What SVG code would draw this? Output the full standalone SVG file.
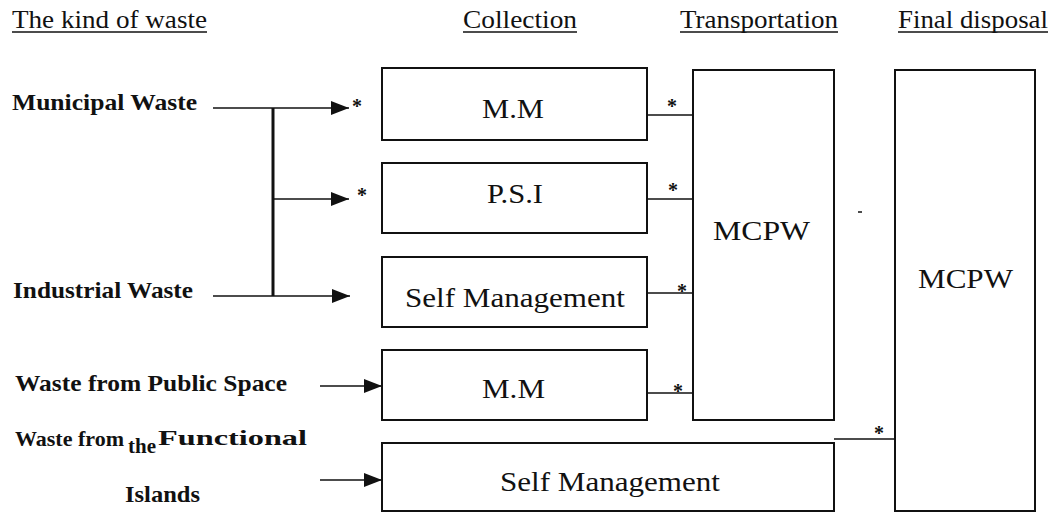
<svg xmlns="http://www.w3.org/2000/svg" width="1055" height="513" viewBox="0 0 1055 513">
<style>
text{font-family:"Liberation Serif","Times New Roman",serif;fill:#111;font-weight:bold}
.h{font-size:25px;font-weight:normal}
.l{font-size:24px}
.b{font-size:27px;font-weight:normal}
.s{font-size:20px}
.box{fill:#fff;stroke:#111;stroke-width:2}
.ln{stroke:#111;stroke-width:1.5;fill:none}
.u{stroke:#111;stroke-width:1.3}
</style>
<defs>
<marker id="ar" viewBox="0 0 18 14" refX="18" refY="7" markerWidth="18" markerHeight="14" markerUnits="userSpaceOnUse" orient="auto"><path d="M0,0L18,7L0,14z" fill="#111"/></marker>
</defs>
<g id="headers">
<text class="h" x="12" y="28" textLength="195" lengthAdjust="spacingAndGlyphs">The kind of waste</text>
<line class="u" x1="12" y1="32" x2="207" y2="32"/>
<text class="h" x="463" y="28" textLength="114" lengthAdjust="spacingAndGlyphs">Collection</text>
<line class="u" x1="463" y1="32" x2="577" y2="32"/>
<text class="h" x="680" y="28" textLength="158" lengthAdjust="spacingAndGlyphs">Transportation</text>
<line class="u" x1="680" y1="32" x2="838" y2="32"/>
<text class="h" x="898" y="28" textLength="150" lengthAdjust="spacingAndGlyphs">Final disposal</text>
<line class="u" x1="898" y1="32" x2="1048" y2="32"/>
</g>
<g id="sources">
<text class="l" x="12" y="110" textLength="185" lengthAdjust="spacingAndGlyphs">Municipal Waste</text>
<text class="l" x="13" y="298" textLength="180" lengthAdjust="spacingAndGlyphs">Industrial Waste</text>
<text class="l" x="15" y="391" textLength="272" lengthAdjust="spacingAndGlyphs">Waste from Public Space</text>
<text class="l" x="15" y="446" style="font-size:22px">Waste from<tspan x="128" y="453" style="font-size:21px">the</tspan><tspan x="158" y="445" style="font-size:21px" textLength="149" lengthAdjust="spacingAndGlyphs">Functional</tspan></text>
<text class="l" x="125" y="502" textLength="75" lengthAdjust="spacingAndGlyphs">Islands</text>
</g>
<g id="mm1"><rect class="box" x="382" y="68" width="265" height="72"/><text class="b" x="482" y="118" textLength="62" lengthAdjust="spacingAndGlyphs">M.M</text></g>
<g id="psi"><rect class="box" x="382" y="163" width="265" height="70"/><text class="b" x="487" y="203" textLength="56" lengthAdjust="spacingAndGlyphs">P.S.I</text></g>
<g id="self1"><rect class="box" x="382" y="257" width="265" height="70"/><text class="b" x="405" y="307" textLength="220" lengthAdjust="spacingAndGlyphs">Self Management</text></g>
<g id="mm2"><rect class="box" x="382" y="350" width="265" height="70"/><text class="b" x="482" y="398" textLength="63" lengthAdjust="spacingAndGlyphs">M.M</text></g>
<g id="self2"><rect class="box" x="382" y="443" width="452" height="68"/><text class="b" x="500" y="491" textLength="220" lengthAdjust="spacingAndGlyphs">Self Management</text></g>
<g id="mcpw-transport"><rect class="box" x="693" y="70" width="141" height="350"/><text class="b" x="713" y="240" textLength="97" lengthAdjust="spacingAndGlyphs">MCPW</text></g>
<g id="mcpw-final"><rect class="box" x="895" y="70" width="140" height="441"/><text class="b" x="918" y="288" textLength="95" lengthAdjust="spacingAndGlyphs">MCPW</text></g>
<g id="connectors">
<line class="ln" x1="213" y1="108" x2="349" y2="108" marker-end="url(#ar)"/>
<line x1="273" y1="108" x2="273" y2="296" stroke="#111" stroke-width="3"/>
<line class="ln" x1="273" y1="199" x2="349" y2="199" marker-end="url(#ar)"/>
<line class="ln" x1="213" y1="296" x2="350" y2="296" marker-end="url(#ar)"/>
<line class="ln" x1="320" y1="386" x2="382" y2="386" marker-end="url(#ar)"/>
<line class="ln" x1="320" y1="480" x2="382" y2="480" marker-end="url(#ar)"/>
<line class="ln" x1="647" y1="115" x2="693" y2="115"/>
<line class="ln" x1="647" y1="199" x2="693" y2="199"/>
<line class="ln" x1="647" y1="293" x2="693" y2="293"/>
<line class="ln" x1="647" y1="393" x2="693" y2="393"/>
<line class="ln" x1="834" y1="439" x2="895" y2="439"/>
<line class="ln" x1="858" y1="212" x2="862" y2="212"/>
<text class="s" x="357" y="113" text-anchor="middle">*</text>
<text class="s" x="362" y="202" text-anchor="middle">*</text>
<text class="s" x="672" y="113" text-anchor="middle">*</text>
<text class="s" x="673" y="197" text-anchor="middle">*</text>
<text class="s" x="682" y="298" text-anchor="middle">*</text>
<text class="s" x="678" y="398" text-anchor="middle">*</text>
<text class="s" x="879" y="440" text-anchor="middle">*</text>
</g>
</svg>
